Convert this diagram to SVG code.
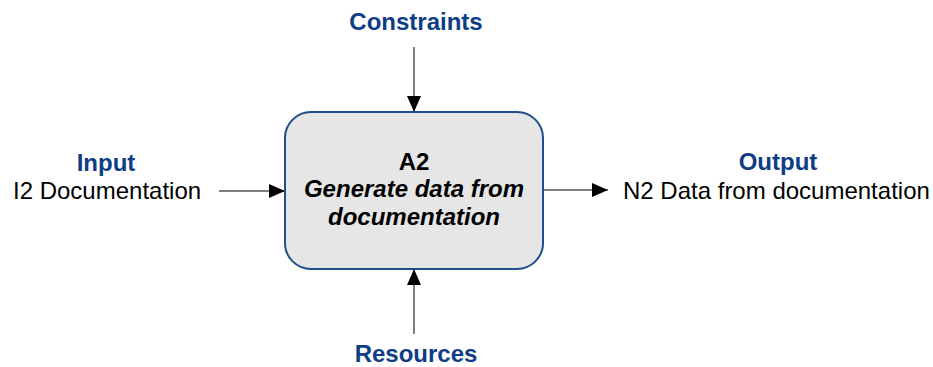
<svg xmlns="http://www.w3.org/2000/svg" width="933" height="367" viewBox="0 0 933 367">
<style>
text{font-family:"Liberation Sans",Arial,sans-serif;font-size:24px}
.lbl{font-weight:bold;fill:#0e3d86;text-anchor:middle}
.t{fill:#000}
.c{stroke:#555;stroke-width:1.5;fill:none;marker-end:url(#a2)}
</style>
<defs>
<marker id="a2" viewBox="0 0 16 16" refX="16" refY="8" markerWidth="16" markerHeight="16" markerUnits="userSpaceOnUse" orient="auto">
<path d="M0,1 L16,8 L0,15 z" fill="#000"/>
</marker>
</defs>
<g id="connectors">
<line class="c" x1="414" y1="47" x2="414" y2="112"/>
<line class="c" x1="414" y1="334" x2="414" y2="269"/>
<line class="c" x1="219" y1="191" x2="285" y2="191"/>
<line class="c" x1="543" y1="190" x2="608" y2="190"/>
</g>
<g id="A2">
<rect x="285" y="112" width="258" height="157" rx="26" ry="26" fill="#e6e6e6" stroke="#1f4e8c" stroke-width="2"/>
<text x="414" y="170" text-anchor="middle" font-weight="bold">A2</text>
<text x="414" y="197" text-anchor="middle" font-weight="bold" font-style="italic">Generate data from</text>
<text x="414" y="225" text-anchor="middle" font-weight="bold" font-style="italic">documentation</text>
</g>
<g id="constraints"><text class="lbl" x="416" y="30">Constraints</text></g>
<g id="resources"><text class="lbl" x="416" y="362">Resources</text></g>
<g id="input">
<text class="lbl" x="106" y="171">Input</text>
<text class="t" x="13" y="199">I2 Documentation</text>
</g>
<g id="output">
<text class="lbl" x="778" y="170">Output</text>
<text class="t" x="623" y="199">N2 Data from documentation</text>
</g>
</svg>
